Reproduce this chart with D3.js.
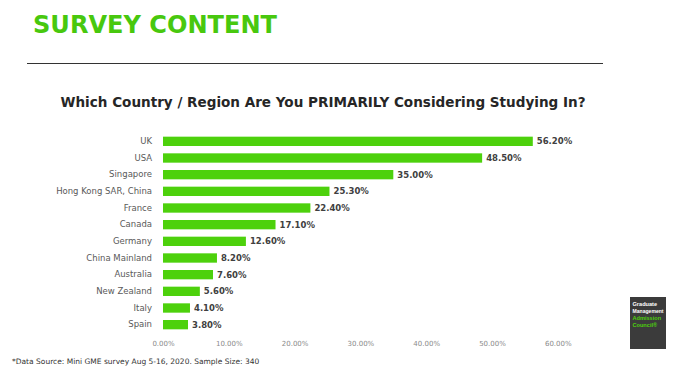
<!DOCTYPE html>
<html>
<head>
<meta charset="utf-8">
<script src="https://cdn.jsdelivr.net/npm/d3@7"></script>
<style>
  body { margin: 0; background: #fff; }
  svg { font-family: "DejaVu Sans", Verdana, sans-serif; }
</style>
</head>
<body>
<div id="chart"></div>
<script>
const countries = ['UK', 'USA', 'Singapore', 'Hong Kong SAR, China', 'France', 'Canada',
  'Germany', 'China Mainland', 'Australia', 'New Zealand', 'Italy', 'Spain'];
const shares = [56.2, 48.5, 35.0, 25.3, 22.4, 17.1, 12.6, 8.2, 7.6, 5.6, 4.1, 3.8];
const ticks = [0, 10, 20, 30, 40, 50, 60];

const width = 700, height = 370;
const margin = { top: 133, right: 143, bottom: 37, left: 163 };
const green = '#4dd10c';

const svg = d3.select('#chart').append('svg')
  .attr('width', width)
  .attr('height', height);

// header
svg.append('text')
  .attr('x', 33).attr('y', 33)
  .attr('font-size', 24).attr('font-weight', 'bold')
  .attr('fill', '#48c80e')
  .attr('textLength', 244).attr('lengthAdjust', 'spacingAndGlyphs')
  .text('SURVEY CONTENT');

svg.append('line')
  .attr('x1', 27).attr('x2', 603)
  .attr('y1', 63.5).attr('y2', 63.5)
  .attr('stroke', '#333').attr('stroke-width', 1.2);

svg.append('text')
  .attr('x', 323).attr('y', 107)
  .attr('text-anchor', 'middle')
  .attr('font-size', 14).attr('font-weight', 'bold')
  .attr('fill', '#262626')
  .attr('textLength', 525).attr('lengthAdjust', 'spacingAndGlyphs')
  .text('Which Country / Region Are You PRIMARILY Considering Studying In?');

const g = svg.append('g')
  .attr('transform', `translate(${margin.left},${margin.top})`);

const innerH = 333 - margin.top;
const x = d3.scaleLinear()
  .domain([0, 60])
  .range([0, 394.8]);

const y = d3.scaleBand()
  .domain(countries)
  .range([0, innerH])
  .paddingInner(0.44)
  .paddingOuter(0.22);

// x axis labels only
const xAxis = g.append('g')
  .attr('transform', `translate(0,${innerH})`)
  .call(d3.axisBottom(x).tickValues(ticks).tickSize(0).tickPadding(8)
    .tickFormat(d => d3.format('.2f')(d) + '%'));
xAxis.select('.domain').remove();
xAxis.selectAll('text')
  .attr('font-size', 7)
  .attr('fill', '#8a8a8a')
  .attr('font-family', 'DejaVu Sans, sans-serif');

// y axis labels
const yAxis = g.append('g')
  .call(d3.axisLeft(y).tickSize(0).tickPadding(11));
yAxis.select('.domain').remove();
yAxis.selectAll('text')
  .attr('font-size', 8.5)
  .attr('fill', '#595959')
  .attr('font-family', 'DejaVu Sans, sans-serif');

// bars
g.selectAll('rect.bar')
  .data(countries)
  .join('rect')
  .attr('class', 'bar')
  .attr('x', 0)
  .attr('y', d => y(d))
  .attr('width', (d, i) => x(shares[i]))
  .attr('height', y.bandwidth())
  .attr('fill', green);

// value labels
g.selectAll('text.val')
  .data(countries)
  .join('text')
  .attr('class', 'val')
  .attr('x', (d, i) => x(shares[i]) + 4)
  .attr('y', d => y(d) + y.bandwidth() / 2)
  .attr('dy', '0.35em')
  .attr('font-size', 8.5)
  .attr('font-weight', 'bold')
  .attr('fill', '#404040')
  .text((d, i) => d3.format('.2f')(shares[i]) + '%');

// footnote
svg.append('text')
  .attr('x', 12).attr('y', 364)
  .attr('font-size', 7.5)
  .attr('fill', '#333')
  .text('*Data Source: Mini GME survey Aug 5-16, 2020. Sample Size: 340');

// GMAC logo box
const logo = svg.append('g').attr('transform', 'translate(630,297)');
logo.append('rect')
  .attr('width', 36).attr('height', 52)
  .attr('fill', '#3b3b3b');
const logoLines = [['Graduate', '#fff'], ['Management', '#fff'], ['Admission', green], ['Council®', green]];
logo.selectAll('text')
  .data(logoLines)
  .join('text')
  .attr('x', 2.5)
  .attr('y', (d, i) => 9 + i * 7)
  .attr('font-size', 5.6)
  .attr('font-weight', 'bold')
  .attr('font-family', 'Liberation Sans, Arial, sans-serif')
  .attr('fill', d => d[1])
  .text(d => d[0])
  .each(function () {
    if (this.getComputedTextLength() > 31) {
      d3.select(this).attr('textLength', 31).attr('lengthAdjust', 'spacingAndGlyphs');
    }
  });
</script>
</body>
</html>
